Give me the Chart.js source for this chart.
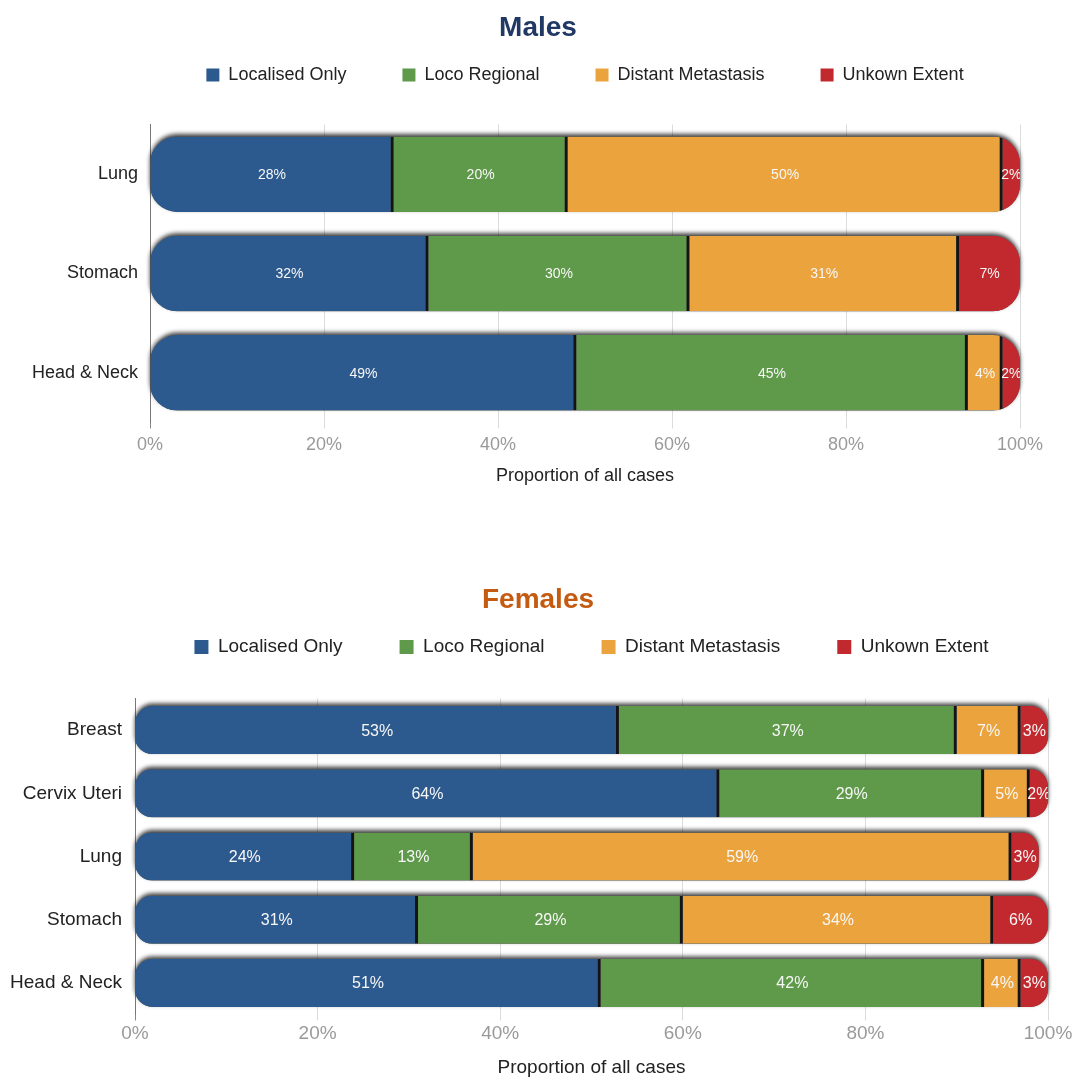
<!DOCTYPE html>
<html>
<head>
<meta charset="utf-8">
<title>Stage at diagnosis</title>
<script src="https://cdn.jsdelivr.net/npm/chart.js"></script>
<style>
  html, body { margin: 0; padding: 0; background: #fff; overflow: hidden; }
  .chart-box { position: absolute; left: 0; width: 1076px; }
  #males-box { top: 0; height: 487px; }
  #females-box { top: 542px; height: 537px; }
</style>
</head>
<body>
<div class="chart-box" id="males-box"><canvas id="males-chart"></canvas></div>
<div class="chart-box" id="females-box"><canvas id="females-chart"></canvas></div>

<script>
// stage series, shared by both panels
const seriesNames = ['Localised Only', 'Loco Regional', 'Distant Metastasis', 'Unkown Extent'];
const seriesColors = ['#2d5a8e', '#5e9a4a', '#eba33e', '#c2292f'];

// males (%)
const maleSites = ['Lung', 'Stomach', 'Head & Neck'];
const maleLocalised = [28, 32, 49];
const maleLocoRegional = [20, 30, 45];
const maleDistant = [50, 31, 4];
const maleUnknown = [2, 7, 2];

// females (%)
const femaleSites = ['Breast', 'Cervix Uteri', 'Lung', 'Stomach', 'Head & Neck'];
const femaleLocalised = [53, 64, 24, 31, 51];
const femaleLocoRegional = [37, 29, 13, 29, 42];
const femaleDistant = [7, 5, 59, 34, 4];
const femaleUnknown = [3, 2, 3, 6, 3];

const FONT = '"Liberation Sans", Arial, Helvetica, sans-serif';
Chart.defaults.font.family = FONT;

// extra room under the legend (legend.fit has no afterFit hook),
// and keep the title centred on the whole canvas rather than the padded area
const layoutTweaks = {
  id: 'layoutTweaks',
  beforeInit(chart, args, opts) {
    const fit = chart.legend.fit;
    chart.legend.fit = function () {
      fit.call(this);
      this.height += opts.legendExtra || 0;
    };
  },
  afterLayout(chart) {
    if (chart.titleBlock) {
      chart.titleBlock.left = 0;
      chart.titleBlock.right = chart.width;
    }
  }
};

// each stacked row is a rounded "pill" with a soft dark edge; segments are clipped to it
function rowPaths(chart) {
  const xs = chart.scales.x;
  const first = chart.getDatasetMeta(0);
  const n = chart.data.labels.length;
  const paths = [];
  for (let i = 0; i < n; i++) {
    const total = chart.data.datasets.reduce((s, ds) => s + ds.data[i], 0);
    const el = first.data[i];
    if (!el) continue;
    const x0 = xs.getPixelForValue(0);
    const x1 = xs.getPixelForValue(total);
    const h = el.height;
    const p = new Path2D();
    p.roundRect(x0, el.y - h / 2, x1 - x0, h, h * 0.36);
    paths.push(p);
  }
  return paths;
}

const pillBars = {
  id: 'pillBars',
  beforeDatasetsDraw(chart) {
    const ctx = chart.ctx;
    const paths = rowPaths(chart);
    ctx.save();
    ctx.shadowColor = 'rgba(0,0,0,0.75)';
    ctx.shadowBlur = 4;
    ctx.shadowOffsetY = -2.5;
    ctx.fillStyle = '#555';
    paths.forEach(p => ctx.fill(p));
    ctx.restore();

    ctx.save();
    const clip = new Path2D();
    paths.forEach(p => clip.addPath(p));
    ctx.clip(clip);
  },
  afterDatasetsDraw(chart, args, opts) {
    const ctx = chart.ctx;
    // value labels, centred in each segment
    ctx.fillStyle = '#f7f7f7';
    ctx.font = `${opts.fontSize}px ${FONT}`;
    ctx.textAlign = 'center';
    ctx.textBaseline = 'middle';
    chart.data.datasets.forEach((ds, d) => {
      chart.getDatasetMeta(d).data.forEach((el, i) => {
        const v = ds.data[i];
        if (!v) return;
        ctx.fillText(v + '%', (el.x + el.base) / 2, el.y + 1);
      });
    });
    ctx.restore();
  }
};

function buildChart(canvasId, s) {
  const datasets = s.series.map((values, k) => ({
    label: seriesNames[k],
    data: values,
    backgroundColor: seriesColors[k],
    borderColor: '#141414',
    borderWidth: k < s.series.length - 1 ? { top: 0, right: 3, bottom: 0, left: 0 } : 0,
    barPercentage: 0.76,
    categoryPercentage: 1
  }));

  return new Chart(document.getElementById(canvasId), {
    type: 'bar',
    data: { labels: s.sites, datasets },
    plugins: [layoutTweaks, pillBars],
    options: {
      indexAxis: 'y',
      responsive: true,
      maintainAspectRatio: false,
      animation: false,
      layout: { padding: { left: 0, right: s.padRight, top: 0, bottom: 0 } },
      plugins: {
        title: {
          display: true,
          text: s.title,
          color: s.titleColor,
          font: { size: 28, weight: 'bold', family: FONT },
          padding: s.titlePadding
        },
        legend: {
          position: 'top',
          fullSize: false,
          labels: {
            boxWidth: s.box,
            boxHeight: s.box,
            padding: s.legendPadding,
            color: '#222',
            font: { size: s.legendFont },
            generateLabels: chart => chart.data.datasets.map((ds, i) => ({
              text: ds.label,
              fillStyle: ds.backgroundColor,
              strokeStyle: ds.backgroundColor,
              lineWidth: 0,
              fontColor: '#222',
              hidden: false,
              datasetIndex: i
            }))
          }
        },
        tooltip: { enabled: false },
        layoutTweaks: { legendExtra: s.legendExtra },
        pillBars: { fontSize: s.valueFont }
      },
      scales: {
        x: {
          stacked: true,
          min: 0,
          max: 100,
          border: { display: false },
          grid: {
            color: c => c.index === 0 ? '#888' : '#dcdcdc',
            tickLength: 6
          },
          ticks: {
            stepSize: 20,
            padding: s.tickPadding,
            color: '#9a9a9a',
            font: { size: s.tickFont },
            callback: v => v + '%'
          },
          title: {
            display: true,
            text: 'Proportion of all cases',
            color: '#222',
            font: { size: s.tickFont },
            padding: { top: s.axisTitleTop, bottom: 0 }
          }
        },
        y: {
          stacked: true,
          afterFit: scale => { scale.width = s.yWidth; },
          border: { display: true, color: '#777' },
          grid: { display: false, drawTicks: false },
          ticks: {
            padding: s.yPadding,
            color: '#222',
            font: { size: s.tickFont }
          }
        }
      }
    }
  });
}

buildChart('males-chart', {
  title: 'Males',
  titleColor: '#203864',
  titlePadding: { top: 11.2, bottom: -34.8 },
  sites: maleSites,
  series: [maleLocalised, maleLocoRegional, maleDistant, maleUnknown],
  box: 13,
  legendPadding: 56,
  legendFont: 18,
  legendExtra: 30.5,
  valueFont: 14,
  tickFont: 18,
  tickPadding: 6,
  axisTitleTop: 3.3,
  yWidth: 150,
  yPadding: 12,
  padRight: 56
});

buildChart('females-chart', {
  title: 'Females',
  titleColor: '#c55a11',
  titlePadding: { top: 41.2, bottom: -36.3 },
  sites: femaleSites,
  series: [femaleLocalised, femaleLocoRegional, femaleDistant, femaleUnknown],
  box: 14,
  legendPadding: 57,
  legendFont: 19,
  legendExtra: 32,
  valueFont: 16,
  tickFont: 19,
  tickPadding: 2,
  axisTitleTop: 8.9,
  yWidth: 135,
  yPadding: 13,
  padRight: 28
});
</script>
</body>
</html>
